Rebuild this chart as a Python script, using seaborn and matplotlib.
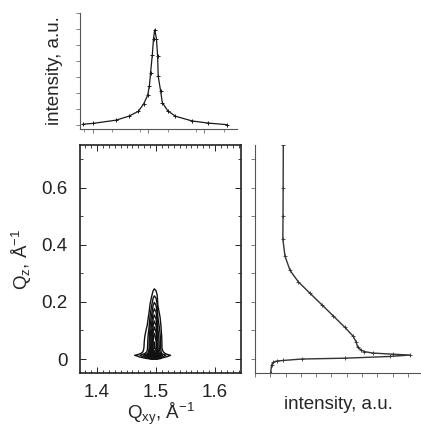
import numpy as np
import pandas as pd
import matplotlib
matplotlib.use("Agg")
import matplotlib.pyplot as plt
from matplotlib.ticker import MultipleLocator, NullFormatter
import seaborn as sns

# ---- data ----
# in-plane profile (top panel)
qxy = [1.375, 1.392, 1.431, 1.453, 1.469, 1.478, 1.485, 1.488, 1.490, 1.493, 1.495,
       1.497, 1.500, 1.502, 1.503, 1.507, 1.510, 1.519, 1.532, 1.561, 1.588, 1.620]
ixy = [0.05, 0.10, 0.30, 0.55, 0.85, 1.30, 1.85, 2.45, 3.25, 4.40, 5.40,
       5.95, 5.40, 4.30, 3.05, 2.15, 1.40, 0.90, 0.55, 0.25, 0.12, 0.02]
# out-of-plane profile (right panel)
qz = [-0.050, -0.021, -0.012, -0.008, -0.006, -0.001, 0.002, 0.008, 0.013, 0.016,
      0.020, 0.025, 0.030, 0.040, 0.060, 0.080, 0.110, 0.150, 0.190, 0.230,
      0.270, 0.310, 0.360, 0.420, 0.500, 0.600, 0.750]
iz = [1.02, 1.09, 1.20, 1.42, 1.85, 3.05, 5.90, 8.80, 10.13, 9.00,
      7.70, 7.15, 6.95, 6.72, 6.60, 6.40, 5.88, 5.12, 4.36, 3.59,
      2.83, 2.29, 1.96, 1.82, 1.83, 1.84, 1.85]
iz_background = 1.82

xy_ticks = [1.4, 1.5, 1.6]
z_ticks = [0.0, 0.2, 0.4, 0.6]
z_tick_labels = ["0", "0.2", "0.4", "0.6"]

sns.set_theme(style="ticks")
plt.rcParams["font.family"] = ["Liberation Sans", "DejaVu Sans"]
plt.rcParams["mathtext.fontset"] = "custom"
plt.rcParams["mathtext.rm"] = "Liberation Sans"
plt.rcParams["mathtext.it"] = "Liberation Sans"

W, H = 421, 430
fig = plt.figure(figsize=(W / 100, H / 100), dpi=100)

def box(l, r, t, b):
    return [l / W, 1 - b / H, (r - l) / W, (b - t) / H]

ax_top = fig.add_axes(box(80, 237, 13, 129))
ax_main = fig.add_axes(box(80, 241, 145, 373))
ax_right = fig.add_axes(box(255, 421, 145, 373))

line_col = "#1a1a1a"
FS = 13.5

# ---- top panel ----
df_top = pd.DataFrame({"qxy": qxy, "I": ixy})
sns.lineplot(data=df_top, x="qxy", y="I", ax=ax_top, color=line_col, lw=0.9,
             marker="+", markersize=3, markeredgewidth=0.7, markeredgecolor=line_col,
             estimator=None)
ax_top.set_xlim(1.37, 1.637)
ax_top.set_ylim(-0.25, 7.0)
sns.despine(ax=ax_top)
ax_top.set_xticks([1.3915, 1.4864, 1.5814])
ax_top.xaxis.set_minor_locator(MultipleLocator(0.0475))
ax_top.set_yticks(range(0, 8))
ax_top.xaxis.set_major_formatter(NullFormatter())
ax_top.yaxis.set_major_formatter(NullFormatter())
ax_top.tick_params(axis="both", which="major", direction="out", length=3, width=0.6, colors="#666")
ax_top.tick_params(axis="x", which="minor", direction="out", length=2, width=0.5, colors="#666")
for s in ax_top.spines.values():
    s.set_color("#555")
    s.set_linewidth(0.8)
ax_top.set_xlabel("")
ax_top.set_ylabel("intensity, a.u.", fontsize=FS, labelpad=6)

# ---- main contour panel ----
X = np.array(qxy)
Y = np.array(qz)
Z = np.outer(np.clip(np.array(iz) - iz_background, 0, None) ** 1.2, np.array(ixy))
levels = np.linspace(9.5, 72.0, 18)
ax_main.contour(X, Y, Z, levels=levels, colors="#111111", linewidths=1.0)
ax_main.set_xlim(1.371, 1.644)
ax_main.set_ylim(-0.049, 0.75)
ax_main.set_xticks(xy_ticks)
ax_main.set_xticklabels(["1.4", "1.5", "1.6"])
ax_main.set_yticks(z_ticks)
ax_main.set_yticklabels(z_tick_labels)
ax_main.xaxis.set_minor_locator(MultipleLocator(0.01))
ax_main.yaxis.set_minor_locator(MultipleLocator(0.1))
ax_main.tick_params(axis="both", which="major", direction="in", length=4, width=0.7,
                    top=True, right=True, labelsize=FS, colors="#222",
                    labelcolor="#222")
ax_main.tick_params(axis="x", which="major", pad=8)
ax_main.tick_params(axis="y", which="major", pad=9)
ax_main.tick_params(axis="both", which="minor", direction="in", length=2.5, width=0.6,
                    top=True, right=True, colors="#222")
for s in ax_main.spines.values():
    s.set_color("#222")
    s.set_linewidth(1.2)
ax_main.set_xlabel(r"Q$_{xy}$, Å$^{-1}$", fontsize=FS, labelpad=0)
ax_main.set_ylabel(r"Q$_{z}$, Å$^{-1}$", fontsize=FS, labelpad=5)

# ---- right panel ----
df_right = pd.DataFrame({"qz": qz, "I": iz})
sns.lineplot(data=df_right, x="I", y="qz", ax=ax_right, sort=False, orient="y",
             estimator=None, color="#333333", lw=1.0, marker="+", markersize=3.5,
             markeredgewidth=0.6, markeredgecolor="#333333")
ax_right.set_xlim(0, 10.85)
ax_right.set_ylim(-0.05, 0.75)
sns.despine(ax=ax_right)
ax_right.set_xticks(range(0, 11))
ax_right.set_yticks(np.arange(0, 0.75, 0.1))
ax_right.xaxis.set_major_formatter(NullFormatter())
ax_right.yaxis.set_major_formatter(NullFormatter())
ax_right.tick_params(axis="both", which="major", direction="out", length=3, width=0.6, colors="#666")
for s in ax_right.spines.values():
    s.set_color("#555")
    s.set_linewidth(0.8)
ax_right.set_ylabel("")
ax_right.set_xlabel("intensity, a.u.", fontsize=FS, labelpad=10)

fig.savefig("out.png", dpi=100)
